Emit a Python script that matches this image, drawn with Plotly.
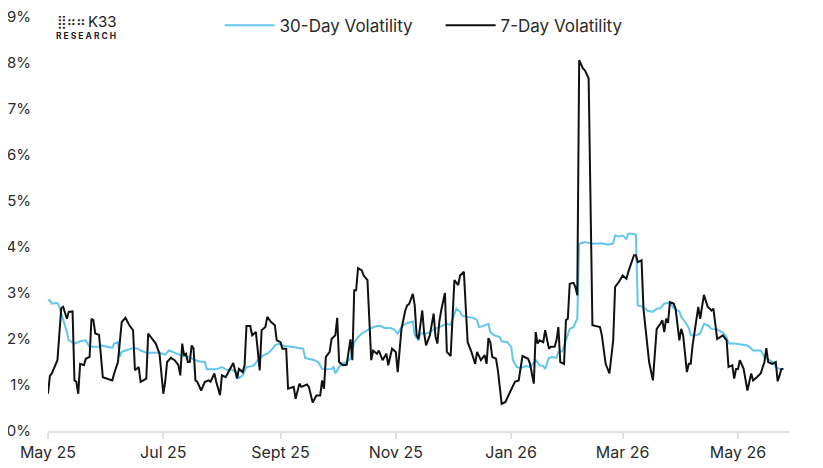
import pandas as pd
import plotly.graph_objects as go

START = "2025-05-01"

# 7-day volatility (%), days counted from START
d7_days = [0, 1, 2, 4, 5, 7, 8, 10, 11, 13, 14, 15, 16, 17, 19, 20, 22, 23, 24, 25, 27, 29, 31, 34, 35, 37,
           39, 41, 43, 45, 46, 48, 49, 52, 53, 55, 57, 59, 61, 62, 63, 65, 67, 69, 70, 71, 72, 73, 74, 75,
           76, 77, 78, 79, 81, 83, 85, 86, 88, 89, 91, 92, 94, 95, 96, 98, 100, 101, 103, 104, 105, 107,
           108, 110, 112, 113, 115, 116, 118, 120, 121, 123, 124, 126, 127, 130, 131, 133, 134, 137, 138,
           140, 142, 144, 145, 146, 147, 149, 150, 152, 153, 154, 156, 158, 160, 161, 162, 163, 164, 166,
           167, 169, 171, 172, 174, 175, 177, 179, 180, 182, 184, 185, 187, 189, 190, 191, 193, 194, 195,
           196, 198, 199, 200, 202, 204, 205, 206, 207, 208, 210, 211, 212, 213, 215, 217, 218, 220, 222,
           224, 226, 227, 229, 231, 232, 233, 234, 235, 237, 238, 240, 242, 244, 247, 249, 251, 254, 255,
           257, 258, 259, 260, 262, 263, 265, 266, 268, 269, 270, 271, 273, 274, 275, 276, 278, 279, 280,
           281, 283, 284, 286, 288, 292, 293, 295, 296, 297, 299, 300, 302, 304, 306, 307, 310, 311, 312,
           314, 315, 317, 318, 320, 321, 322, 324, 325, 326, 327, 328, 329, 331, 332, 334, 335, 336, 338,
           339, 340, 341, 343, 344, 345, 347, 349, 351, 352, 354, 357, 359, 360, 362, 363, 364, 365, 366,
           368, 369, 370, 372, 373, 375, 377, 379, 380, 381, 383, 385, 386, 387, 388, 389]
d7_vals = [0.81, 1.2, 1.25, 1.43, 1.54, 2.67, 2.7, 2.44, 2.59, 2.6, 1.1, 1.07, 0.81, 1.46, 1.43, 1.57, 1.61,
           2.44, 2.41, 2.12, 2.09, 1.17, 1.14, 1.1, 1.25, 1.5, 2.37, 2.46, 2.3, 2.19, 1.32, 1.39, 1.07, 1.14,
           2.12, 2.0, 1.9, 1.68, 0.81, 1.07, 1.5, 1.59, 1.54, 1.43, 1.21, 1.9, 1.65, 1.68, 1.5, 1.5, 1.86,
           1.79, 1.1, 1.07, 0.88, 1.07, 1.1, 1.07, 1.25, 1.07, 0.78, 1.21, 1.17, 1.25, 1.32, 1.48, 1.14,
           1.35, 1.28, 1.43, 2.28, 2.28, 2.08, 2.15, 1.32, 2.19, 2.26, 2.48, 2.37, 2.3, 1.97, 1.93, 1.79,
           1.79, 0.92, 0.96, 0.7, 1.03, 0.96, 1.01, 0.96, 0.62, 0.77, 0.77, 1.1, 0.92, 1.61, 1.72, 2.0, 2.08,
           2.46, 1.5, 1.43, 1.44, 1.99, 1.54, 3.06, 3.06, 3.54, 3.49, 3.38, 3.28, 1.54, 1.75, 1.68, 1.75,
           1.54, 1.68, 1.43, 1.79, 1.72, 1.28, 2.22, 2.62, 2.73, 2.76, 2.98, 2.73, 2.08, 2.0, 2.62, 2.12,
           1.86, 2.08, 2.55, 2.05, 1.9, 2.37, 2.62, 3.0, 1.72, 1.68, 1.63, 3.28, 3.17, 3.38, 3.46, 1.93, 1.72,
           1.46, 1.72, 1.54, 1.65, 1.46, 2.02, 1.93, 1.61, 1.57, 1.32, 0.59, 0.63, 0.81, 1.07, 1.1, 1.63,
           1.57, 1.46, 1.03, 2.15, 1.9, 1.97, 1.93, 2.19, 1.79, 1.83, 1.83, 1.97, 2.26, 1.5, 1.46, 2.41, 2.44,
           3.2, 3.22, 3.13, 2.95, 8.06, 7.88, 7.84, 7.67, 2.3, 2.26, 2.08, 1.46, 1.35, 1.25, 1.97, 3.13, 3.24,
           3.38, 3.31, 3.46, 3.82, 3.82, 3.67, 3.71, 2.66, 1.9, 1.5, 1.1, 1.65, 2.22, 2.33, 2.41, 2.15, 2.44,
           2.35, 2.8, 2.77, 2.66, 1.97, 2.22, 2.08, 1.28, 1.46, 1.46, 1.86, 2.37, 2.7, 2.44, 2.96, 2.7, 2.62,
           2.66, 2.0, 2.08, 1.97, 1.39, 1.43, 1.14, 1.35, 1.35, 1.54, 1.35, 1.07, 0.88, 1.25, 1.1, 1.17,
           1.25, 1.5, 1.8, 1.5, 1.46, 1.5, 1.08, 1.21, 1.35, 1.35]

# 30-day volatility (%)
d30_days = [0, 1, 2, 5, 6, 8, 10, 11, 14, 17, 20, 22, 27, 28, 31, 34, 35, 37, 38, 39, 41, 44, 47, 49, 52,
            57, 59, 62, 64, 66, 68, 70, 72, 75, 78, 80, 83, 84, 86, 89, 92, 94, 96, 97, 100, 101, 103, 105,
            108, 109, 111, 114, 116, 118, 120, 122, 124, 128, 131, 135, 136, 138, 141, 143, 145, 147, 150,
            151, 152, 154, 155, 158, 160, 162, 164, 166, 168, 171, 174, 176, 178, 181, 183, 185, 187, 189,
            191, 193, 194, 196, 197, 200, 202, 204, 207, 209, 211, 213, 216, 218, 219, 222, 225, 227, 228,
            230, 233, 234, 236, 239, 240, 243, 245, 246, 248, 250, 253, 255, 258, 260, 262, 263, 265, 267,
            269, 270, 272, 274, 276, 278, 279, 280, 281, 284, 288, 293, 296, 299, 300, 302, 304, 306, 307,
            309, 311, 312, 315, 317, 320, 322, 324, 326, 329, 331, 334, 335, 337, 339, 340, 343, 345, 347,
            349, 351, 354, 357, 359, 360, 363, 366, 370, 371, 373, 377, 379, 381, 383, 385, 387, 389]
d30_vals = [2.84, 2.84, 2.77, 2.78, 2.7, 2.44, 2.15, 1.97, 1.9, 1.95, 1.97, 1.83, 1.83, 1.86, 1.83, 1.81,
            1.9, 1.93, 1.61, 1.72, 1.75, 1.79, 1.8, 1.75, 1.7, 1.7, 1.7, 1.66, 1.75, 1.72, 1.68, 1.65, 1.64,
            1.59, 1.54, 1.51, 1.5, 1.34, 1.34, 1.34, 1.39, 1.34, 1.32, 1.34, 1.27, 1.15, 1.21, 1.39, 1.41,
            1.43, 1.54, 1.65, 1.68, 1.75, 1.86, 1.9, 1.86, 1.83, 1.81, 1.79, 1.59, 1.57, 1.54, 1.5, 1.35,
            1.34, 1.35, 1.39, 1.25, 1.39, 1.46, 1.5, 1.57, 1.93, 2.04, 2.12, 2.17, 2.24, 2.28, 2.28, 2.24,
            2.24, 2.21, 2.12, 2.26, 2.33, 2.36, 2.38, 2.08, 1.97, 2.12, 2.12, 2.14, 2.21, 2.26, 2.3, 2.33,
            2.31, 2.66, 2.59, 2.51, 2.48, 2.46, 2.41, 2.26, 2.28, 2.33, 2.15, 2.08, 2.04, 1.95, 1.93, 1.83,
            1.54, 1.39, 1.37, 1.41, 1.39, 1.54, 1.43, 1.41, 1.35, 1.59, 1.61, 1.59, 1.72, 1.73, 1.97, 2.22,
            2.26, 2.37, 2.44, 4.07, 4.11, 4.07, 4.08, 4.05, 4.08, 4.25, 4.23, 4.25, 4.18, 4.29, 4.29, 4.27,
            2.73, 2.7, 2.62, 2.59, 2.66, 2.67, 2.77, 2.79, 2.67, 2.6, 2.48, 2.37, 2.24, 2.08, 2.08, 2.12,
            2.33, 2.3, 2.22, 2.21, 2.14, 2.04, 1.9, 1.9, 1.88, 1.86, 1.83, 1.75, 1.75, 1.61, 1.56, 1.51,
            1.39, 1.35, 1.35]

tick_dates = ["2025-05-01", "2025-07-01", "2025-09-01", "2025-11-01", "2026-01-01", "2026-03-01", "2026-05-01"]
tick_labels = ["May 25", "Jul 25", "Sept 25", "Nov 25", "Jan 26", "Mar 26", "May 26"]

start = pd.Timestamp(START)
x30 = [start + pd.Timedelta(days=d) for d in d30_days]
x7 = [start + pd.Timedelta(days=d) for d in d7_days]

FONT = "Inter"
TXT = "#2b2b2b"

fig = go.Figure()
fig.add_trace(go.Scatter(x=x30, y=d30_vals, mode="lines", name="30-Day Volatility",
                         line=dict(color="#62C6EE", width=2)))
fig.add_trace(go.Scatter(x=x7, y=d7_vals, mode="lines", name="7-Day Volatility",
                         line=dict(color="#111111", width=2)))

fig.update_layout(
    width=823, height=468,
    margin=dict(l=40, r=42, t=9, b=45, autoexpand=False),
    paper_bgcolor="white", plot_bgcolor="white",
    font=dict(family=FONT, size=15, color=TXT),
    showlegend=True,
    legend=dict(orientation="h", x=0.2316, xanchor="left", y=0.979, yanchor="middle",
                entrywidth=156, entrywidthmode="pixels",
                font=dict(size=17, color=TXT), bgcolor="rgba(0,0,0,0)", itemwidth=50),
    xaxis=dict(range=["2025-05-01", "2026-05-28"], tickvals=tick_dates, ticktext=tick_labels,
               automargin=False, ticklabeloverflow="allow",
               showgrid=False, zeroline=False, showline=True, linecolor="#dfe0e6", linewidth=2,
               ticks="outside", ticklen=6, tickcolor="#dfe0e6", tickwidth=1.5,
               tickfont=dict(size=16, color=TXT)),
    yaxis=dict(range=[0, 9], dtick=1, ticksuffix="%", showgrid=False, zeroline=False,
               automargin=False, ticklabeloverflow="allow",
               showline=False, ticks="", ticklabelstandoff=16, tickfont=dict(size=15, color=TXT)),
)

# K33 Research logo
fig.add_annotation(xref="paper", yref="paper", x=0.009, y=1.012, xanchor="left", yanchor="top",
                   text="⣿⠶⠶", showarrow=False, font=dict(family="DejaVu Sans", size=13, color="#222"))
fig.add_annotation(xref="paper", yref="paper", x=0.051, y=1.017, xanchor="left", yanchor="top",
                   text="K33", showarrow=False, font=dict(family=FONT, size=15, color="#222"))
fig.add_annotation(xref="paper", yref="paper", x=0.008, y=0.972, xanchor="left", yanchor="top",
                   text="<b>R E S E A R C H</b>", showarrow=False, font=dict(family=FONT, size=8.5, color="#222"))

fig.write_html("out.html")
